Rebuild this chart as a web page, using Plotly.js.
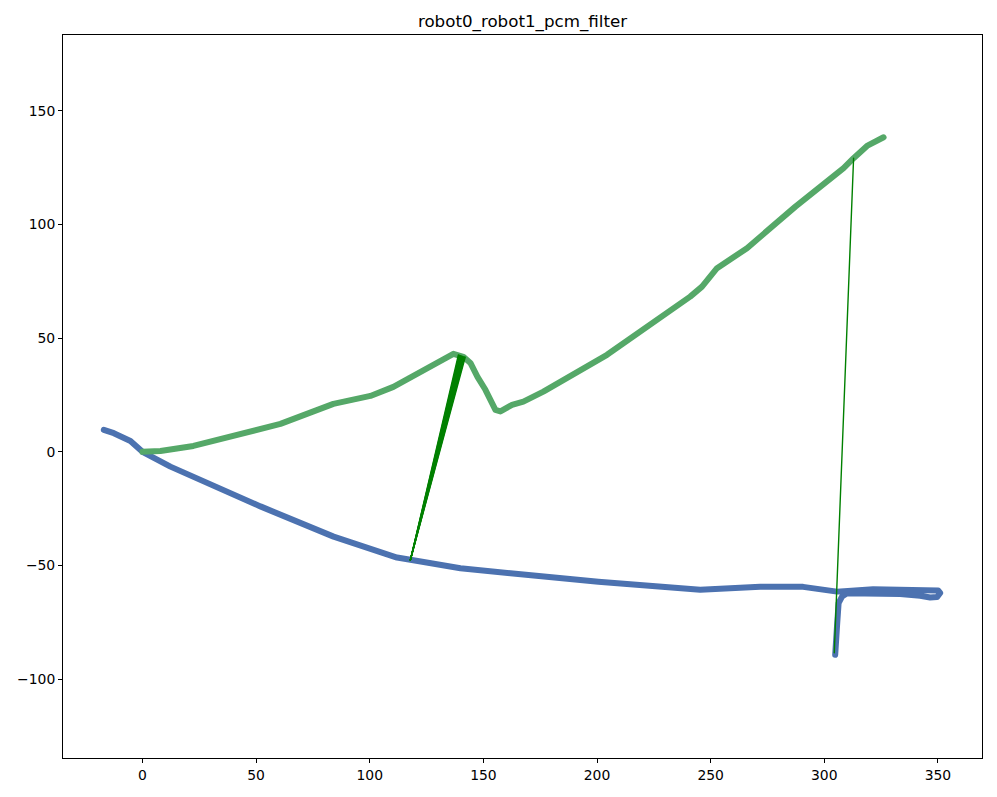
<!DOCTYPE html>
<html>
<head>
<meta charset="utf-8">
<script src="https://cdn.plot.ly/plotly-3.0.1.min.js"></script>
<style>
  html, body { margin: 0; padding: 0; background: #fff; }
  path.js-line { stroke-linecap: round; stroke-linejoin: round; }
</style>
</head>
<body>
<div id="plot1" style="width:997px;height:797px;"></div>
<script>
// robot0 trajectory (blue)
let robot0X = [-17.0, -12.6, -5.3, 0, 12.3, 25.5, 51.9, 84.1, 112.0, 117.9, 139.9, 161.9, 200.6, 245.4, 271.8, 290.7,
    305.6, 321.5, 340.8, 350.1, 351.0, 349.6, 346.6, 342.2, 333.4, 310.0, 307.8, 306.3, 305.6, 304.8];
let robot0Y = [9.7, 8.2, 4.8, 0, -6.5, -12.3, -24.0, -37.3, -46.5, -47.5, -51.2, -53.4, -57.2, -60.7, -59.4, -59.4,
    -61.5, -60.4, -61.0, -61.0, -62.1, -63.9, -64.1, -63.3, -62.5, -62.2, -63.7, -66.6, -76.8, -89.3];

// robot1 trajectory (green)
let robot1X = [0, 7.9, 22.4, 40.0, 60.7, 84.0, 100.3, 110.4, 136.8, 141.2, 144.3, 147.4, 150.9, 155.3, 157.5,
    162.6, 167.6, 176.4, 204.4, 241.0, 246.2, 252.8, 266.0, 287.3, 308.5, 312.9, 318.8, 326.1];
let robot1Y = [0, 0.4, 2.6, 7.0, 12.3, 21.1, 24.6, 28.6, 43.1, 41.8, 39.1, 33.0, 27.3, 18.5, 17.8,
    20.7, 22.1, 26.5, 42.7, 68.3, 72.7, 80.8, 89.6, 107.9, 124.8, 129.2, 134.6, 138.4];

// inter-robot loop closures that passed the pcm filter
let closureFromX = [117.9, 117.9, 117.9, 117.9, 117.9, 117.9, 117.9, 117.9, 117.9, 117.9, 117.9, 304.4];
let closureFromY = [-47.5, -47.5, -47.5, -47.5, -47.5, -47.5, -47.5, -47.5, -47.5, -47.5, -47.5, -88.4];
let closureToX = [139.0, 139.3, 139.6, 139.9, 140.2, 140.5, 140.8, 141.1, 141.4, 141.7, 142.0, 312.9];
let closureToY = [42.6, 42.5, 42.4, 42.3, 42.2, 42.1, 42.0, 41.9, 41.8, 41.7, 41.6, 129.2];

let xTicks = [0, 50, 100, 150, 200, 250, 300, 350];
let yTicks = [-100, -50, 0, 50, 100, 150];

// one trace for all closures, segments split by nulls
let closureX = [];
let closureY = [];
for (let i = 0; i < closureFromX.length; i++) {
    closureX.push(closureFromX[i], closureToX[i], null);
    closureY.push(closureFromY[i], closureToY[i], null);
}

let trace0 = {
    x: robot0X, y: robot0Y, type: 'scatter', mode: 'lines',
    line: {color: '#4c72b0', width: 6}, name: 'robot0'
};
let trace1 = {
    x: robot1X, y: robot1Y, type: 'scatter', mode: 'lines',
    line: {color: '#55a868', width: 6}, name: 'robot1'
};
let trace2 = {
    x: closureX, y: closureY, type: 'scatter', mode: 'lines',
    line: {color: '#008000', width: 1.4}, connectgaps: false, name: 'closures'
};

let axisStyle = {
    showgrid: false, zeroline: false,
    showline: true, mirror: true, linecolor: 'black', linewidth: 1,
    ticks: 'outside', ticklen: 4, tickwidth: 1, tickcolor: 'black',
    tickfont: {family: 'DejaVu Sans', size: 13.9, color: 'black'}
};

let layout = {
    width: 997, height: 797,
    margin: {l: 63, r: 15, t: 35, b: 39},
    paper_bgcolor: 'white', plot_bgcolor: 'white',
    showlegend: false,
    font: {family: 'DejaVu Sans', color: 'black'},
    title: {
        text: 'robot0_robot1_pcm_filter',
        font: {family: 'DejaVu Sans', size: 16.7, color: 'black'},
        x: 0.5, xref: 'paper', xanchor: 'center',
        y: 1 - 21 / 797, yref: 'container', yanchor: 'middle'
    },
    xaxis: Object.assign({}, axisStyle, {range: [-34.97, 369.4], tickvals: xTicks}),
    yaxis: Object.assign({}, axisStyle, {range: [-134.7, 183.4], tickvals: yTicks})
};

Plotly.newPlot('plot1', [trace0, trace1, trace2], layout, {staticPlot: true});
</script>
</body>
</html>
